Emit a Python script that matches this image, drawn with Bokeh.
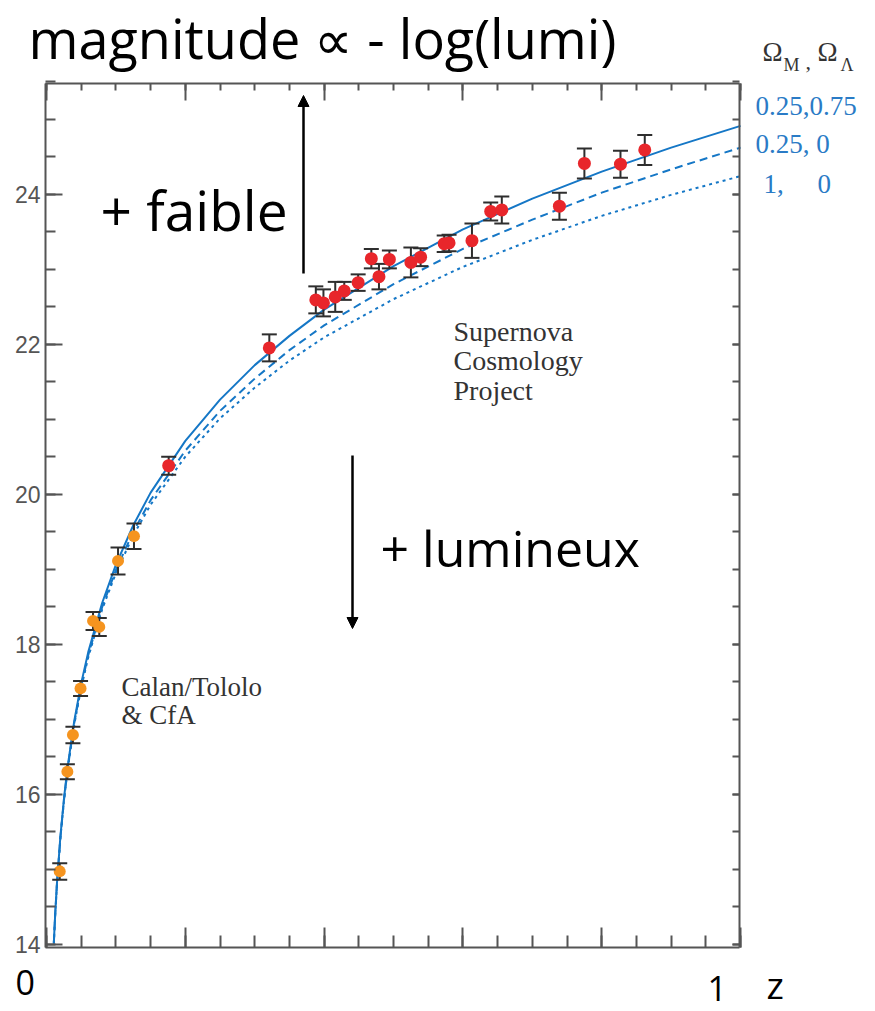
from bokeh.plotting import figure
from bokeh.models import (Range1d, LinearAxis, FixedTicker, Label, Arrow, NormalHead,
                          CustomJSTickFormatter, ColumnDataSource)
from bokeh.embed import file_html
from bokeh.resources import INLINE

# ---------------- data ----------------
# model curves (redshift z, effective magnitude)
z_curve = [0.0105, 0.0125, 0.015, 0.02, 0.025, 0.03, 0.04, 0.05, 0.06, 0.08, 0.1, 0.125,
           0.15, 0.2, 0.25, 0.3, 0.35, 0.4, 0.5, 0.6, 0.7, 0.8, 0.9, 1.0]
m_lcdm = [14.02, 14.41, 14.81, 15.44, 15.93, 16.34, 16.98, 17.48, 17.89, 18.545, 19.06, 19.585,
          20.02, 20.71, 21.26, 21.72, 22.11, 22.46, 23.04, 23.53, 23.94, 24.30, 24.62, 24.91]
m_open = [14.01, 14.40, 14.795, 15.42, 15.91, 16.31, 16.95, 17.44, 17.85, 18.49, 18.99, 19.50,
          19.92, 20.58, 21.11, 21.54, 21.92, 22.25, 22.80, 23.27, 23.66, 24.02, 24.33, 24.62]
m_eds = [14.005, 14.395, 14.79, 15.415, 15.90, 16.30, 16.93, 17.42, 17.82, 18.46, 18.95, 19.45,
         19.86, 20.50, 21.01, 21.42, 21.78, 22.09, 22.60, 23.03, 23.39, 23.71, 23.99, 24.24]
series_labels = ["0.25,0.75", "0.25, 0", "1,\u00a0\u00a0\u00a0\u00a0\u00a00"]

# Calan/Tololo & CfA supernovae (orange)
z_low = [0.019, 0.030, 0.038, 0.049, 0.067, 0.076, 0.103, 0.126]
m_low = [14.97, 16.30, 16.79, 17.41, 18.31, 18.23, 19.11, 19.44]
e_low = [0.11, 0.10, 0.11, 0.10, 0.12, 0.12, 0.18, 0.17]

# Supernova Cosmology Project (red)
z_scp = [0.176, 0.321, 0.388, 0.399, 0.416, 0.429, 0.449, 0.468, 0.479, 0.494, 0.525,
         0.539, 0.573, 0.580, 0.613, 0.640, 0.656, 0.739, 0.775, 0.827, 0.862]
m_scp = [20.38, 21.95, 22.59, 22.55, 22.63, 22.71, 22.82, 23.14, 22.90, 23.13, 23.09,
         23.16, 23.34, 23.35, 23.38, 23.77, 23.79, 23.84, 24.41, 24.40, 24.59]
e_scp = [0.12, 0.18, 0.18, 0.18, 0.20, 0.12, 0.11, 0.13, 0.17, 0.12, 0.20,
         0.12, 0.11, 0.11, 0.23, 0.12, 0.18, 0.18, 0.20, 0.18, 0.20]

y_ticks = [14, 16, 18, 20, 22, 24]
y_minor = [14 + 0.5 * i for i in range(24)]
x_ticks = [0.0, 0.2, 0.4, 0.6, 0.8, 1.0]
x_minor = [0.05 * i for i in range(21)]

# ---------------- styling ----------------
BLUE = "#1577c6"
LEG_BLUE = "#2a7bc6"
RED = "#e8262b"
ORANGE = "#f5941f"
BAR = "#2e2e2e"
AXC = "#555555"
DARK = "#333333"
HAND = "Open Sans"
SERIF = "Liberation Serif"

# plot box in canvas pixels and its data extent
L, T, W, H = 45, 83, 694, 864
CW, CH = 875, 1011
X0, X1 = -0.0015, 0.9985
Y0, Y1 = 13.955, 25.475


def X(px):
    return X0 + (px - L) / W * (X1 - X0)


def Y(py):
    return Y1 - (py - T) / H * (Y1 - Y0)


# the frame fills the whole canvas; the plot box is drawn by fixed-location axes
p = figure(width=CW, height=CH, x_range=Range1d(X(0), X(CW)), y_range=Range1d(Y(CH), Y(0)),
           output_backend="svg", toolbar_location=None,
           x_axis_location=None, y_axis_location=None,
           min_border=0, min_border_left=0, min_border_right=0,
           min_border_top=0, min_border_bottom=0)
p.title.visible = False
p.outline_line_color = None
p.grid.grid_line_color = None
p.background_fill_color = "white"
p.border_fill_color = "white"


def mk_axis(ticks, minor, major_in, minor_in, labels, loc, bounds):
    ax = LinearAxis(ticker=FixedTicker(ticks=ticks, minor_ticks=minor), fixed_location=loc,
                    bounds=bounds,
                    axis_line_color=AXC, axis_line_width=2,
                    major_tick_line_color=AXC, major_tick_line_width=2,
                    minor_tick_line_color=AXC, minor_tick_line_width=2,
                    major_tick_in=major_in, major_tick_out=0,
                    minor_tick_in=minor_in, minor_tick_out=0)
    if labels:
        ax.major_label_text_font = "Liberation Sans"
        ax.major_label_text_font_size = "23px"
        ax.major_label_text_color = AXC
        ax.major_label_standoff = 5
    else:
        ax.formatter = CustomJSTickFormatter(code="return ''")
        ax.major_label_text_font_size = "0px"
        ax.major_label_standoff = 0
    return ax


p.add_layout(mk_axis(y_ticks, y_minor, 17, 10, True, X0, (Y0, Y1)), "left")
p.add_layout(mk_axis(y_ticks, y_minor, 7, 7, False, X1, (Y0, Y1)), "right")
p.add_layout(mk_axis(x_ticks, x_minor, 20, 12, False, Y0, (X0, X1)), "below")
p.add_layout(mk_axis(x_ticks, x_minor, 17, 7, False, Y1, (X0, X1)), "above")

# model curves
p.line(z_curve, m_eds, line_color=BLUE, line_width=2, line_dash="3 4")
p.line(z_curve, m_open, line_color=BLUE, line_width=2, line_dash="8 5")
p.line(z_curve, m_lcdm, line_color=BLUE, line_width=2)


def draw_points(zs, ms, es, color, size):
    src = ColumnDataSource(dict(z=zs, m=ms,
                                lo=[m - e for m, e in zip(ms, es)],
                                hi=[m + e for m, e in zip(ms, es)]))
    p.segment(x0="z", y0="lo", x1="z", y1="hi", source=src, line_color=BAR, line_width=2)
    p.scatter(x="z", y="lo", source=src, marker="dash", size=15, line_color=BAR, line_width=2)
    p.scatter(x="z", y="hi", source=src, marker="dash", size=15, line_color=BAR, line_width=2)
    p.scatter(x="z", y="m", source=src, marker="circle", size=size,
              fill_color=color, line_color=None)


draw_points(z_low, m_low, e_low, ORANGE, 12)
draw_points(z_scp, m_scp, e_scp, RED, 13)

SHIFT = 0.42  # measured offset of Bokeh's alphabetic baseline, in em


def lab(px, py, text, font, size, color="black"):
    py = py - SHIFT * size
    p.add_layout(Label(x=X(px), y=Y(py), text=text, text_font=font,
                       text_font_size=f"{size}px", text_color=color, text_align="left",
                       text_baseline="alphabetic"))


# hand-written annotations
lab(28, 60, "magnitude \u221d - log(lumi)", HAND, 54)
lab(100, 232, "+ faible", HAND, 55)
lab(380, 568, "+ lumineux", HAND, 50)
lab(15, 996, "0", HAND, 34)
lab(707, 1002, "1", HAND, 34)
lab(766, 1000, "z", HAND, 37)

p.add_layout(Arrow(end=NormalHead(size=11, fill_color="black", line_color="black"),
                   x_start=X(303), y_start=Y(273), x_end=X(303), y_end=Y(95),
                   line_color="black", line_width=2.5))
p.add_layout(Arrow(end=NormalHead(size=11, fill_color="black", line_color="black"),
                   x_start=X(352), y_start=Y(455), x_end=X(352), y_end=Y(628),
                   line_color="black", line_width=2.5))

# serif labels
lab(453, 343, "Supernova", SERIF, 28, DARK)
lab(453, 372, "Cosmology", SERIF, 28, DARK)
lab(453, 402, "Project", SERIF, 28, DARK)
lab(121, 698, "Calan/Tololo", SERIF, 27, DARK)
lab(121, 726, "& CfA", SERIF, 27, DARK)

# legend
lab(762, 63, "\u03a9", SERIF, 27, DARK)
lab(783, 72, "M", SERIF, 18, DARK)
lab(805, 71, ",", SERIF, 22, DARK)
lab(817, 63, "\u03a9", SERIF, 27, DARK)
lab(840, 72, "\u039b", SERIF, 18, DARK)
lab(755, 117, series_labels[0], SERIF, 27, LEG_BLUE)
lab(755, 155, series_labels[1], SERIF, 27, LEG_BLUE)
lab(763, 195, series_labels[2], SERIF, 27, LEG_BLUE)

open("out.html", "w").write(file_html(p, INLINE))
